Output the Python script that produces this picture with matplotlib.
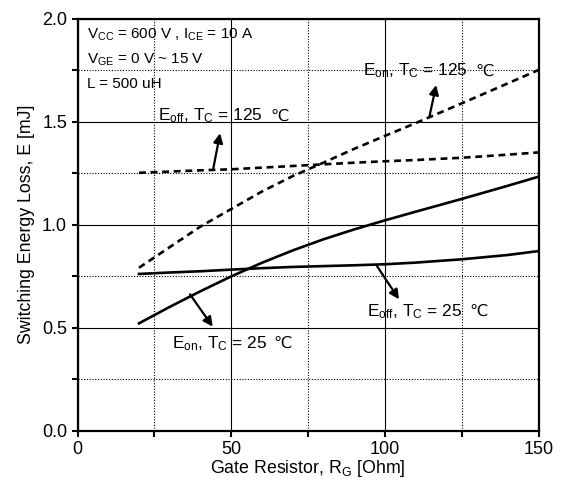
import matplotlib
matplotlib.use("Agg")
import matplotlib.pyplot as plt
from matplotlib.ticker import MultipleLocator, FormatStrFormatter

plt.rcParams['font.family'] = ['Liberation Sans', 'DejaVu Sans']
plt.rcParams['mathtext.fontset'] = 'custom'
plt.rcParams['mathtext.rm'] = 'Liberation Sans'
plt.rcParams['mathtext.it'] = 'Liberation Sans'
plt.rcParams['mathtext.default'] = 'rm'

# Data
rg = [20, 30, 40, 50, 60, 70, 80, 90, 100, 110, 125, 140, 150]
eon_25 = [0.52, 0.60, 0.676, 0.748, 0.814, 0.874, 0.928, 0.976, 1.020, 1.062, 1.124, 1.188, 1.232]
eoff_25 = [0.760, 0.767, 0.773, 0.781, 0.788, 0.794, 0.798, 0.802, 0.807, 0.815, 0.831, 0.852, 0.871]
eon_125 = [0.79, 0.89, 0.99, 1.075, 1.16, 1.235, 1.30, 1.367, 1.43, 1.492, 1.588, 1.685, 1.75]
eoff_125 = [1.251, 1.257, 1.263, 1.268, 1.276, 1.284, 1.292, 1.300, 1.307, 1.313, 1.324, 1.339, 1.35]

fig = plt.figure(figsize=(5.65, 4.84), dpi=100)
ax = fig.add_axes([77.5 / 565, (484 - 430.5) / 484, 461 / 565, 412 / 484])

dash = (0, (2.6, 1.8))
ax.plot(rg, eon_25, color='k', lw=1.9)
ax.plot(rg, eoff_25, color='k', lw=1.9)
ax.plot(rg, eon_125, color='k', lw=1.9, ls=dash)
ax.plot(rg, eoff_125, color='k', lw=1.9, ls=dash)

ax.set_xlim(0, 150)
ax.set_ylim(0, 2.0)
ax.xaxis.set_major_locator(MultipleLocator(50))
ax.xaxis.set_minor_locator(MultipleLocator(25))
ax.yaxis.set_major_locator(MultipleLocator(0.5))
ax.yaxis.set_minor_locator(MultipleLocator(0.25))
ax.yaxis.set_major_formatter(FormatStrFormatter('%.1f'))
ax.grid(which='major', color='k', lw=0.8, ls='-')
ax.grid(which='minor', color='k', lw=0.8, ls=(0, (1, 1.5)))
ax.set_axisbelow(True)
for s in ax.spines.values():
    s.set_linewidth(1.6)
ax.tick_params(which='both', direction='out', length=4, width=1.5, labelsize=13)

ax.set_xlabel('Gate Resistor, R$_{\\mathrm{G}}$ [Ohm]', fontsize=12.8, labelpad=0)
ax.set_ylabel('Switching Energy Loss, E [mJ]', fontsize=12.8, labelpad=5)

fs = 11
ax.text(3.0, 1.904, 'V$_{\\mathrm{CC}}$ = 600 V , I$_{\\mathrm{CE}}$ = 10 A', fontsize=fs, va='baseline')
ax.text(3.0, 1.783, 'V$_{\\mathrm{GE}}$ = 0 V ~ 15 V', fontsize=fs, va='baseline')
ax.text(3.0, 1.661, 'L = 500 uH', fontsize=fs, va='baseline')

ap = dict(arrowstyle='-|>', lw=1.6, color='k', mutation_scale=14, shrinkA=0, shrinkB=0)
lfs = 12.4
labels = [
    ('E$_{\\mathrm{off}}$, T$_{\\mathrm{C}}$ = 125', 26.3, 1.504, (46.4, 1.443), (44.2, 1.273)),
    ('E$_{\\mathrm{on}}$, T$_{\\mathrm{C}}$ = 125', 93.0, 1.722, (116.7, 1.677), (114.5, 1.523)),
    ('E$_{\\mathrm{off}}$, T$_{\\mathrm{C}}$ = 25', 94.3, 0.556, (104.6, 0.637), (97.4, 0.799)),
    ('E$_{\\mathrm{on}}$, T$_{\\mathrm{C}}$ = 25', 30.6, 0.399, (44.0, 0.504), (36.6, 0.661)),
]
fig.canvas.draw()
for txt, tx, ty, head, tail in labels:
    t = ax.text(tx, ty, txt, fontsize=lfs, va='baseline', ha='left')
    fig.canvas.draw()
    bb = t.get_window_extent()
    inv = ax.transData.inverted()
    x1, _ = inv.transform((bb.x1 + 7, bb.y0))
    ax.text(x1, ty, '\u2103', fontsize=lfs * 0.95, va='baseline', ha='left', family=['DejaVu Sans'])
    ax.annotate('', xy=head, xytext=tail, arrowprops=ap)

fig.savefig('out.png', dpi=100)
